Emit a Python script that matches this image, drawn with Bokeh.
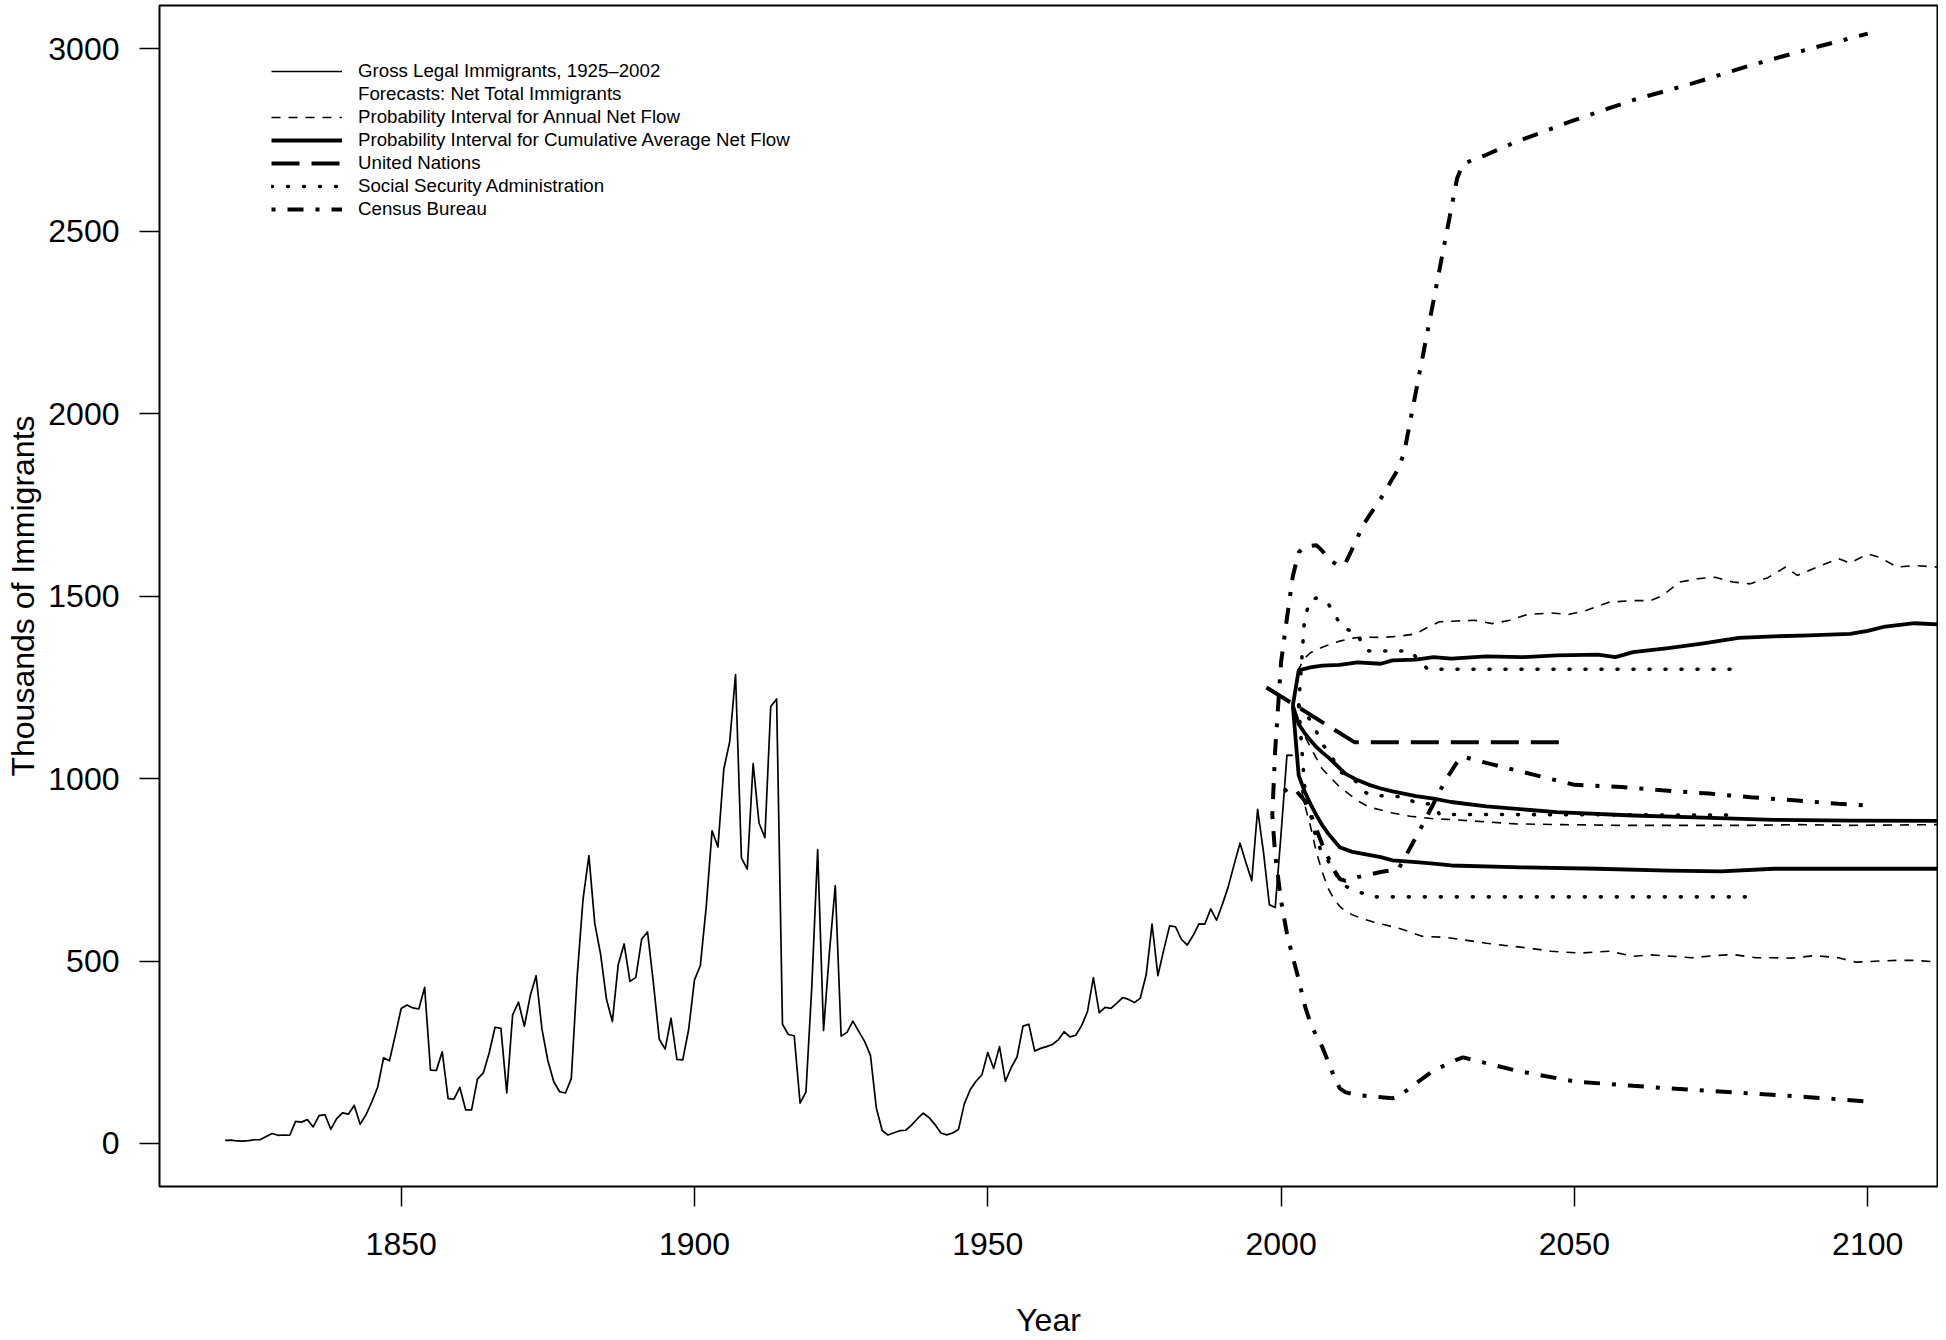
from bokeh.plotting import figure
from bokeh.models import Range1d, FixedTicker, Legend, LegendItem
from bokeh.embed import file_html
from bokeh.resources import INLINE

FONT = "Liberation Sans"

# ---------------- data (thousands of immigrants) ----------------
hist_years = list(range(1820, 2003))
hist_values = [
    8.4, 9.1, 6.9, 6.4, 7.9, 10.2, 10.8, 18.9, 27.4, 22.5,
    23.3, 22.6, 60.5, 58.6, 65.4, 45.4, 76.2, 79.3, 38.9, 68.1,
    84.1, 80.3, 104.6, 52.5, 78.6, 114.4, 154.4, 235.0, 226.5, 297.0,
    370.0, 379.5, 371.6, 368.6, 427.8, 200.9, 200.4, 251.3, 123.1, 121.3,
    153.6, 91.9, 92.0, 176.3, 193.4, 248.1, 318.6, 315.7, 138.8, 352.8,
    387.2, 321.4, 404.8, 459.8, 313.3, 227.5, 170.0, 141.9, 138.5, 177.8,
    457.3, 669.4, 789.0, 603.3, 518.6, 395.3, 334.2, 490.1, 546.9, 444.4,
    455.3, 560.3, 579.7, 439.7, 285.6, 258.5, 343.3, 230.8, 229.3, 311.7,
    448.6, 487.9, 648.7, 857.0, 812.9, 1026.5, 1100.7, 1285.3, 782.9, 751.8,
    1041.6, 878.6, 838.2, 1197.9, 1218.5, 326.7, 298.8, 295.4, 110.6, 141.1,
    430.0, 805.2, 309.6, 522.9, 706.9, 294.3, 304.5, 335.2, 307.3, 279.7,
    241.7, 97.1, 35.6, 23.1, 29.5, 35.0, 36.3, 50.2, 67.9, 83.0,
    70.8, 51.8, 28.8, 23.7, 28.6, 38.1, 108.7, 147.3, 170.6, 188.3,
    249.2, 205.7, 265.5, 170.4, 208.2, 237.8, 321.6, 326.9, 253.3, 260.7,
    265.4, 271.3, 283.8, 306.3, 292.2, 296.7, 323.0, 362.0, 454.4, 358.6,
    373.3, 370.5, 384.7, 400.1, 394.9, 386.2, 398.6, 462.3, 601.4, 460.3,
    530.6, 596.6, 594.1, 559.8, 543.9, 570.0, 601.7, 601.5, 643.0, 612.1,
    656.1, 704.0, 765.0, 823.0, 770.0, 720.5, 915.9, 798.4, 654.5, 646.6,
    849.8, 1064.3, 1063.7,
]

# Probability interval for annual net flow (upper / median / lower)
ann_up_years = [2002, 2003, 2004, 2005, 2007, 2010, 2012, 2014, 2017, 2020,
                2023, 2025, 2027, 2030, 2033, 2036, 2039, 2042, 2046, 2049,
                2052, 2056, 2060, 2063, 2065, 2068, 2071, 2074, 2077, 2080,
                2083, 2086, 2088, 2092, 2095, 2097, 2100, 2102, 2105, 2108, 2112]
ann_up = [1200, 1300, 1330, 1345, 1360, 1377, 1385, 1388, 1387, 1390,
          1397, 1415, 1430, 1432, 1434, 1425, 1434, 1450, 1454, 1450,
          1461, 1484, 1488, 1488, 1502, 1539, 1548, 1552, 1539, 1534,
          1551, 1580, 1557, 1584, 1603, 1591, 1616, 1607, 1580, 1584, 1580]
ann_mid_years = [2002, 2003, 2005, 2007, 2010, 2013, 2015, 2019, 2022, 2026,
                 2029, 2040, 2048, 2058, 2070, 2080, 2088, 2097, 2112]
ann_mid = [1200, 1150, 1086, 1027, 977, 940, 922, 906, 897, 890,
           888, 876, 874, 872, 872, 872, 874, 872, 874]
ann_lo_years = [2002, 2003, 2004, 2005, 2006, 2007, 2008, 2009, 2010, 2011, 2012,
                2014, 2016, 2018, 2020, 2022, 2024, 2028, 2032, 2035,
                2038, 2042, 2046, 2051, 2056, 2060, 2063, 2067, 2070, 2074,
                2077, 2081, 2084, 2087, 2091, 2095, 2098, 2102, 2105, 2108, 2112]
ann_lo = [1200, 1009, 930, 870, 800, 745, 700, 670, 650, 636, 628,
          615, 606, 598, 590, 580, 568, 565, 556, 549,
          543, 536, 527, 522, 527, 513, 517, 513, 509, 515,
          518, 509, 509, 508, 515, 509, 497, 500, 502, 502, 497]

# Probability interval for cumulative average net flow (upper / median / lower)
cum_up_years = [2002, 2003, 2005, 2007, 2010, 2013, 2017, 2019, 2023, 2026,
                2029, 2035, 2041, 2047, 2054, 2057, 2060, 2066, 2072, 2078,
                2084, 2090, 2097, 2100, 2103, 2108, 2112]
cum_up = [1200, 1297, 1305, 1310, 1312, 1319, 1315, 1324, 1326, 1333,
          1329, 1335, 1333, 1338, 1340, 1333, 1347, 1358, 1371, 1386,
          1390, 1393, 1397, 1405, 1417, 1426, 1423]
cum_mid_years = [2002, 2003, 2004, 2005, 2006, 2007, 2008, 2009, 2010, 2011,
                 2013, 2015, 2017, 2019, 2023, 2026, 2029, 2035, 2047, 2060,
                 2072, 2084, 2097, 2112]
cum_mid = [1200, 1150, 1125, 1105, 1087, 1072, 1059, 1044, 1028, 1013,
           996, 983, 973, 965, 952, 945, 936, 924, 908, 899,
           893, 887, 885, 884]
cum_lo_years = [2002, 2003, 2004, 2005, 2006, 2007, 2008, 2010, 2012, 2014,
                2017, 2019, 2023, 2026, 2029, 2041, 2054, 2066, 2075, 2084, 2097, 2112]
cum_lo = [1200, 1009, 965, 931, 900, 873, 850, 812, 800, 794,
          785, 776, 771, 767, 762, 757, 753, 748, 746, 753, 753, 753]

# United Nations
un_years = [1997.5, 2002.5, 2007.5, 2012.5, 2047.5]
un_values = [1250, 1200, 1150, 1100, 1100]

# Social Security Administration (high / intermediate / low)
ssa_hi_years = [2003, 2004, 2005, 2006, 2007, 2008, 2009, 2010, 2011, 2012,
                2013, 2014, 2015, 2022, 2025, 2078]
ssa_hi = [1200, 1440, 1490, 1495, 1490, 1480, 1455, 1425, 1410, 1405,
          1400, 1360, 1350, 1350, 1300, 1300]
ssa_mid_years = [2003, 2004, 2005, 2006, 2007, 2008, 2009, 2010, 2012, 2013,
                 2014, 2015, 2021, 2023, 2026, 2027, 2078]
ssa_mid = [1200, 1180, 1160, 1130, 1095, 1075, 1050, 1020, 1000, 990,
           968, 955, 950, 933, 930, 902, 900]
ssa_lo_years = [2003, 2004, 2005, 2006, 2007, 2008, 2009, 2010, 2011, 2012,
                2013, 2014, 2015, 2080]
ssa_lo = [1200, 980, 905, 835, 795, 775, 748, 720, 705, 698,
          692, 685, 676, 676]

# Census Bureau (high / middle / low)
census_hi_years = [1998.5, 1999, 2000, 2001, 2002, 2003, 2004, 2006, 2007, 2008,
                   2009, 2010, 2011, 2012, 2013, 2014, 2015, 2017, 2020, 2021,
                   2030, 2031, 2035, 2040, 2050, 2060, 2070, 2080, 2090, 2100]
census_hi = [900, 1080, 1320, 1440, 1555, 1620, 1636, 1640, 1625, 1605,
             1592, 1582, 1592, 1625, 1660, 1695, 1720, 1768, 1850, 1895,
             2645, 2685, 2710, 2745, 2805, 2860, 2905, 2955, 3000, 3042]
census_mid_years = [2000.5, 2001.5, 2002.5, 2004, 2005, 2006, 2007, 2008, 2009, 2010,
                    2011, 2013, 2017, 2020, 2022, 2024, 2026, 2028, 2030, 2031,
                    2036, 2043, 2050, 2058, 2065, 2073, 2080, 2088, 2095, 2100]
census_mid = [965, 977, 968, 940, 905, 862, 820, 785, 750, 725,
              720, 730, 744, 752, 810, 870, 932, 995, 1045, 1060,
              1039, 1011, 983, 977, 968, 959, 949, 940, 931, 926]
census_lo_years = [1998.5, 1999, 2000, 2001, 2002, 2003, 2004, 2005, 2006, 2007,
                   2008, 2009, 2010, 2011, 2013, 2016, 2019, 2020, 2023, 2026,
                   2030, 2031, 2040, 2050, 2060, 2070, 2080, 2090, 2100]
census_lo = [900, 790, 665, 575, 510, 450, 380, 330, 295, 265,
             225, 185, 151, 140, 133, 128, 124, 128, 165, 200,
             230, 236, 200, 170, 158, 147, 137, 127, 115]

x_ticks = [1850, 1900, 1950, 2000, 2050, 2100]
y_ticks = [0, 500, 1000, 1500, 2000, 2500, 3000]

legend_labels = [
    "Gross Legal Immigrants, 1925\u20132002",
    "Forecasts: Net Total Immigrants",
    "Probability Interval for Annual Net Flow",
    "Probability Interval for Cumulative Average Net Flow",
    "United Nations",
    "Social Security Administration",
    "Census Bureau",
]

# ---------------- figure ----------------
p = figure(width=1938, height=1340, output_backend="svg", toolbar_location=None,
           x_range=Range1d(1808.8, 2111.9), y_range=Range1d(-117.9, 3119.2),
           min_border_left=159, min_border_right=1, min_border_top=5,
           min_border_bottom=154)
p.xgrid.visible = False
p.ygrid.visible = False
p.background_fill_color = "white"
p.border_fill_color = "white"
p.outline_line_color = "black"
p.outline_line_width = 2

p.xaxis.ticker = FixedTicker(ticks=x_ticks)
p.yaxis.ticker = FixedTicker(ticks=y_ticks)
p.xaxis.axis_label = "Year"
p.yaxis.axis_label = "Thousands of Immigrants"
for ax in (p.xaxis[0], p.yaxis[0]):
    ax.axis_line_color = None
    ax.major_tick_out = 20
    ax.major_tick_in = 0
    ax.major_tick_line_width = 1.5
    ax.major_tick_line_color = "black"
    ax.minor_tick_line_color = None
    ax.major_label_text_font = FONT
    ax.major_label_text_font_size = "32px"
    ax.major_label_text_color = "black"
    ax.axis_label_text_font = FONT
    ax.axis_label_text_font_size = "32px"
    ax.axis_label_text_font_style = "normal"
    ax.axis_label_text_color = "black"
p.yaxis.major_label_standoff = 20
p.xaxis.major_label_standoff = 26
p.xaxis.axis_label_standoff = 44
p.yaxis.axis_label_standoff = 4

BLACK = "black"
r_hist = p.line(hist_years, hist_values, line_color=BLACK, line_width=1.7, line_join="round")
r_blank = p.line(x=[], y=[], line_alpha=0)

ann_style = dict(line_color=BLACK, line_width=1.6, line_dash="9 8")
r_ann = [p.line(ann_up_years, ann_up, **ann_style),
         p.line(ann_mid_years, ann_mid, **ann_style),
         p.line(ann_lo_years, ann_lo, **ann_style)]

cum_style = dict(line_color=BLACK, line_width=3.8, line_join="round")
r_cum = [p.line(cum_up_years, cum_up, **cum_style),
         p.line(cum_mid_years, cum_mid, **cum_style),
         p.line(cum_lo_years, cum_lo, **cum_style)]

r_un = p.line(un_years, un_values, line_color=BLACK, line_width=4, line_dash="28 12")

ssa_style = dict(line_color=BLACK, line_width=3.6, line_dash="1 15", line_cap="round")
r_ssa = [p.line(ssa_hi_years, ssa_hi, **ssa_style),
         p.line(ssa_mid_years, ssa_mid, **ssa_style),
         p.line(ssa_lo_years, ssa_lo, **ssa_style)]

cen_style = dict(line_color=BLACK, line_width=4, line_dash="4 12 16 12")
r_cen = [p.line(census_hi_years, census_hi, **cen_style),
         p.line(census_mid_years, census_mid, **cen_style),
         p.line(census_lo_years, census_lo, **cen_style)]

items = [
    LegendItem(label=legend_labels[0], renderers=[r_hist]),
    LegendItem(label=legend_labels[1], renderers=[r_blank]),
    LegendItem(label=legend_labels[2], renderers=[r_ann[0]]),
    LegendItem(label=legend_labels[3], renderers=[r_cum[0]]),
    LegendItem(label=legend_labels[4], renderers=[r_un]),
    LegendItem(label=legend_labels[5], renderers=[r_ssa[0]]),
    LegendItem(label=legend_labels[6], renderers=[r_cen[0]]),
]
legend = Legend(items=items, location=(112, 966), orientation="vertical",
                label_text_font=FONT, label_text_font_size="18.7px",
                label_text_color="black",
                glyph_width=71, glyph_height=22, label_height=22,
                spacing=1, padding=0, margin=0, label_standoff=16,
                border_line_color=None, background_fill_alpha=0)
p.add_layout(legend)

open("out.html", "w").write(file_html(p, INLINE))
